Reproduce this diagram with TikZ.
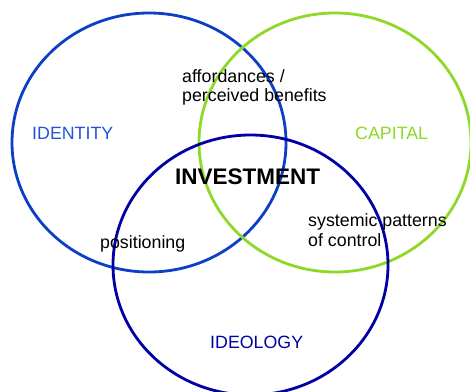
\documentclass[tikz,border=0pt]{standalone}
\usepackage{fontspec}
\setmainfont{Liberation Sans}
\definecolor{identityblue}{RGB}{12,62,200}
\definecolor{identitytext}{RGB}{34,84,214}
\definecolor{capitalgreen}{RGB}{142,216,40}
\definecolor{ideologyblue}{RGB}{0,0,165}

\begin{document}
\begin{tikzpicture}[x=1pt,y=-1pt, ring/.style={line width=2.8pt}, label/.style={inner sep=0pt, anchor=base west, font=\fontsize{17.8}{19.7}\selectfont, align=left}]
\useasboundingbox (0,0) rectangle (470,391);
\draw[ring, identityblue] (149,142.5) ellipse [x radius=137, y radius=129.5];
\draw[ring, capitalgreen] (335,142.5) ellipse [x radius=136, y radius=129.5];
\draw[ring, ideologyblue] (250.5,265) ellipse [x radius=137.5, y radius=130];
\node[label, text=identitytext] (identity) at (32,139) {IDENTITY};
\node[label, text=capitalgreen] (capital) at (355,139) {CAPITAL};
\node[label, text=ideologyblue] (ideology) at (210,348) {IDEOLOGY};
\node[label, font=\fontsize{22.5}{24}\selectfont\bfseries] (investment) at (175,184) {INVESTMENT};
\node[label] (affordances) at (182,101.8) {affordances /\\perceived benefits};
\node[label] (positioning) at (100,248) {positioning};
\node[label] (systemic) at (308,246.5) {systemic patterns\\of control};
\end{tikzpicture}
\end{document}
